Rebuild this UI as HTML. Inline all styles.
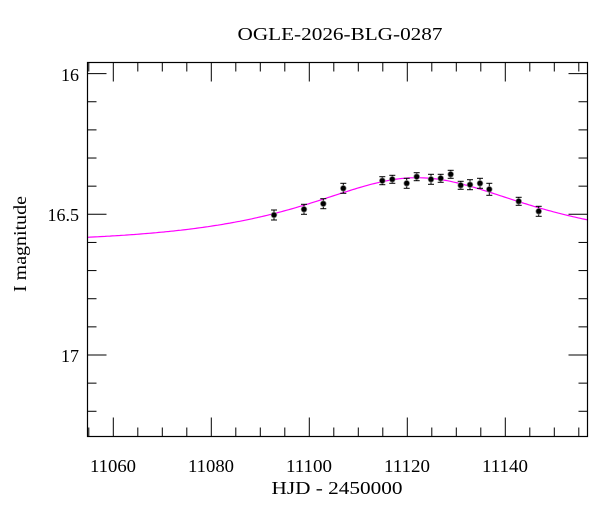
<!DOCTYPE html>
<html><head><meta charset="utf-8"><style>
html,body{margin:0;padding:0;background:#fff;}
svg{display:block;font-family:"Liberation Serif",serif;}
</style></head><body>
<svg id="s" width="600" height="512" viewBox="0 0 600 512" xmlns="http://www.w3.org/2000/svg">
<rect width="600" height="512" fill="#fff"/>
<text x="340" y="40" font-size="18" text-anchor="middle" textLength="205" lengthAdjust="spacingAndGlyphs">OGLE-2026-BLG-0287</text>
<g id="ticks" stroke="#000" stroke-width="1"></g>
<path id="curve" fill="none" stroke="#ff00ff" stroke-width="1.2"/>
<g id="pts"></g>
<rect x="87.5" y="62.5" width="500" height="374" fill="none" stroke="#000" stroke-width="1.2"/>
<g font-size="18" text-anchor="middle">
<text x="113" y="472" textLength="46" lengthAdjust="spacingAndGlyphs">11060</text>
<text x="211" y="472" textLength="46" lengthAdjust="spacingAndGlyphs">11080</text>
<text x="309" y="472" textLength="46" lengthAdjust="spacingAndGlyphs">11100</text>
<text x="407" y="472" textLength="46" lengthAdjust="spacingAndGlyphs">11120</text>
<text x="505" y="472" textLength="46" lengthAdjust="spacingAndGlyphs">11140</text>
</g>
<g font-size="18" text-anchor="end">
<text x="79" y="81">16</text>
<text x="79" y="221">16.5</text>
<text x="79" y="362">17</text>
</g>
<text x="337" y="494" font-size="18" text-anchor="middle" textLength="131" lengthAdjust="spacingAndGlyphs">HJD - 2450000</text>
<text transform="translate(26,244) rotate(-90)" font-size="18" text-anchor="middle" textLength="96" lengthAdjust="spacingAndGlyphs">I magnitude</text>
</svg>
<script>
var X=function(t){return 113.3+(t-11060)*4.9;};
var Y=function(m){return 73.6+(m-16)*281.4;};
var ns="http://www.w3.org/2000/svg",tk=document.getElementById('ticks');
function ln(x1,y1,x2,y2){var l=document.createElementNS(ns,'line');l.setAttribute('x1',x1);l.setAttribute('y1',y1);l.setAttribute('x2',x2);l.setAttribute('y2',y2);tk.appendChild(l);}
for(var t=11055;t<=11156;t+=5){var x=X(t),L=(t%20==0)?19:9;ln(x,436.5,x,436.5-L);ln(x,62.5,x,62.5+L);}
for(var k=0;k<=12;k++){var m=16+k*0.1;if(m>17.29)break;var y=Y(m),L=(k%5==0)?19:9;ln(87.5,y,87.5+L,y);ln(587.5,y,587.5-L,y);}
var d='';for(var t=11054.8;t<=11157;t+=0.5){var u0=0.8,tE=32.4,t0=11122,fs=0.45,I0=16.603;var tau=(t-t0)/tE,u=Math.sqrt(u0*u0+tau*tau);var A=(u*u+2)/(u*Math.sqrt(u*u+4));var m=I0-2.5*Math.log10(fs*A+1-fs);d+=(d?'L':'M')+X(t).toFixed(1)+','+Y(m).toFixed(1);}
document.getElementById('curve').setAttribute('d',d);
var P=[[274,215,5],[304,209.3,5],[323.3,203.7,5],[343.3,188.3,5],[382.3,180.7,4],[392.3,179.3,4],[406.7,183.3,5],[416.7,176.7,4],[431,179.3,5],[440.7,178.3,4],[450.7,174.3,4],[460.7,185.3,4],[470,184.7,5],[480,183.3,5],[489.3,189.3,6],[518.7,201.3,4],[538.7,211.3,5]];
var g=document.getElementById('pts'),h='';
P.forEach(function(p){var x=p[0],y=p[1],e=p[2];h+='<line x1="'+x+'" y1="'+(y-e)+'" x2="'+x+'" y2="'+(y+e)+'" stroke="#000"/><line x1="'+(x-3)+'" y1="'+(y-e)+'" x2="'+(x+3)+'" y2="'+(y-e)+'" stroke="#000"/><line x1="'+(x-3)+'" y1="'+(y+e)+'" x2="'+(x+3)+'" y2="'+(y+e)+'" stroke="#000"/><circle cx="'+x+'" cy="'+y+'" r="3.2" fill="#888"/><circle cx="'+x+'" cy="'+y+'" r="2.5" fill="#000"/>';});
g.innerHTML=h;
</script>
</body></html>
